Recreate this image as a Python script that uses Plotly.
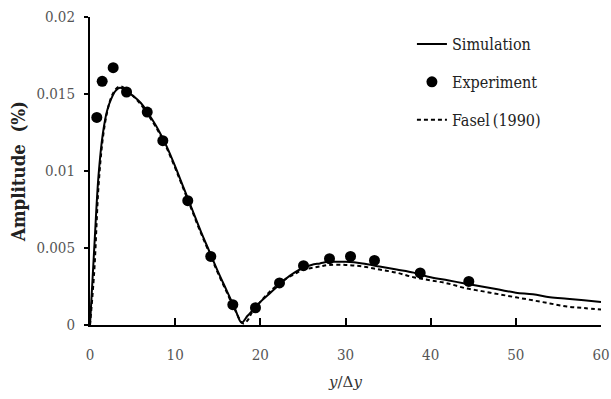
import plotly.graph_objects as go

# Simulation curve
sim_x = [0, 0.5, 1, 1.5, 2, 2.5, 3, 3.5, 4, 5, 6, 7, 8, 9, 10, 11, 12, 13, 14, 15, 16, 17, 17.8,
         18.5, 19, 20, 21, 22, 23, 24, 25, 26, 27, 28, 29, 30, 32, 34, 36, 38, 40, 42, 44, 46, 48,
         50, 52, 54, 56, 58, 60]
sim_y = [0, 0.0050, 0.0097, 0.0124, 0.0139, 0.0147, 0.0152, 0.0154, 0.0153, 0.0149, 0.0144, 0.0136,
         0.0127, 0.0116, 0.0103, 0.0089, 0.0075, 0.0061, 0.0048, 0.0035, 0.0023, 0.0011, 0.00015,
         0.0006, 0.0009, 0.0015, 0.0020, 0.0025, 0.0030, 0.0034, 0.0037, 0.0039, 0.0040, 0.0041,
         0.0041, 0.0041, 0.0040, 0.0038, 0.0036, 0.0034, 0.0031, 0.0029, 0.0027, 0.0025, 0.0023,
         0.0021, 0.0020, 0.0018, 0.0017, 0.0016, 0.0015]

# Fasel (1990) curve
fasel_x = [0, 0.5, 1, 1.5, 2, 2.5, 3, 3.5, 4, 5, 6, 7, 8, 9, 10, 11, 12, 13, 14, 15, 16, 17, 18,
           18.5, 19, 20, 21, 22, 23, 24, 25, 26, 27, 28, 30, 32, 34, 36, 38, 40, 42, 44, 46, 48,
           50, 52, 54, 56, 58, 60]
fasel_y = [0, 0.0035, 0.0090, 0.0121, 0.0138, 0.0148, 0.0153, 0.0155, 0.0154, 0.0149, 0.0143, 0.0135,
           0.0126, 0.0115, 0.0102, 0.0088, 0.0074, 0.0060, 0.0047, 0.0034, 0.0022, 0.0010, 0.0001,
           0.0003, 0.0008, 0.0015, 0.0021, 0.0026, 0.0030, 0.0033, 0.0036, 0.0037, 0.0038, 0.0039,
           0.0039, 0.0038, 0.0036, 0.0034, 0.0031, 0.0029, 0.0027, 0.0024, 0.0022, 0.0020,
           0.0018, 0.0016, 0.0014, 0.0012, 0.0011, 0.0010]

# Experiment points
exp_x = [0.80, 1.43, 2.72, 4.29, 6.72, 8.55, 11.48, 14.18, 16.77, 19.43, 22.25, 25.07, 28.12,
         30.59, 33.4, 38.77, 44.48]
exp_y = [0.01348, 0.01582, 0.01671, 0.01513, 0.01383, 0.01197, 0.00807, 0.00445, 0.00132,
         0.00112, 0.00273, 0.00385, 0.00431, 0.00445, 0.00419, 0.00338, 0.00283]

x_ticks = [0, 10, 20, 30, 40, 50, 60]
y_ticks = [0, 0.005, 0.01, 0.015, 0.02]
y_tick_text = ["0", "0.005", "0.01", "0.015", "0.02"]

serif = "DejaVu Serif Condensed, DejaVu Serif, serif"
serif_it = "DejaVu Serif, serif"

fig = go.Figure()
fig.add_trace(go.Scatter(x=sim_x, y=sim_y, mode="lines", name="Simulation",
                         line=dict(color="black", width=2, shape="spline"),
                         legendgroup="a"))
fig.add_trace(go.Scatter(x=exp_x, y=exp_y, mode="markers", name="Experiment",
                         marker=dict(color="black", size=11), legendgroup="b"))
fig.add_trace(go.Scatter(x=fasel_x, y=fasel_y, mode="lines", name="Fasel\u2009(1990)",
                         line=dict(color="black", width=2, dash="4px,3px", shape="spline"),
                         legendgroup="c"))

fig.update_layout(
    width=611, height=399,
    margin=dict(l=90, r=10, t=17, b=74, autoexpand=False),
    paper_bgcolor="white", plot_bgcolor="white",
    font=dict(family=serif, size=15, color="#555555"),
    showlegend=True,
    legend=dict(x=0.63, y=0.967, xanchor="left", yanchor="top",
                font=dict(family=serif, size=16, color="#222222"),
                bgcolor="rgba(0,0,0,0)", tracegroupgap=14, traceorder="grouped"),
    xaxis=dict(range=[0, 60], tickvals=x_ticks, ticks="inside", ticklen=7, tickwidth=2,
               tickcolor="black", showline=True, linecolor="black", linewidth=2,
               showgrid=False, zeroline=False, ticklabelstandoff=15, automargin=False,
               ticklabeloverflow="allow",
               title=dict(text="<i>y</i>/\u0394<i>y</i>", font=dict(family=serif_it, size=15, color="#333333"),
                          standoff=13)),
    yaxis=dict(range=[0, 0.02], tickvals=y_ticks, ticktext=y_tick_text, ticks="outside",
               ticklen=4, tickwidth=2, tickcolor="black", showline=True, linecolor="black",
               linewidth=2, showgrid=False, zeroline=False, ticklabelstandoff=6, automargin=False,
               ticklabeloverflow="allow",
               title=dict(text="<b>Amplitude  (%)</b>", font=dict(family=serif, size=18.5, color="#222222"),
                          standoff=6)),
)

fig.write_html("out.html", config={"displayModeBar": False},
               post_script="document.body.style.margin='0';document.body.style.overflow='hidden';")
